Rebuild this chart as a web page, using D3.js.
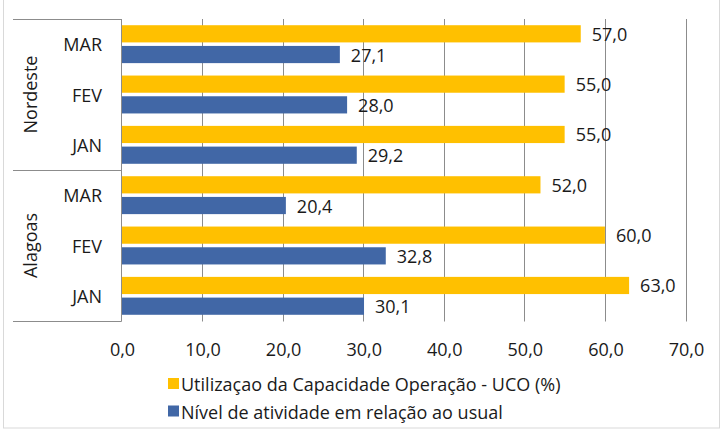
<!DOCTYPE html>
<html>
<head>
<meta charset="utf-8">
<script src="https://cdn.jsdelivr.net/npm/d3@7"></script>
<style>
  html, body { margin: 0; padding: 0; background: #fff; }
  svg { display: block; font-family: "Open Sans", "Liberation Sans", Arial, sans-serif; }
</style>
</head>
<body>
<svg id="chart" width="724" height="435"></svg>
<script>
// Data (top to bottom as drawn)
const groups = ["Nordeste", "Alagoas"];
const months = ["MAR", "FEV", "JAN"];
const categories = ["Nordeste|MAR", "Nordeste|FEV", "Nordeste|JAN", "Alagoas|MAR", "Alagoas|FEV", "Alagoas|JAN"];
const seriesNames = ["Utilizaçao da Capacidade Operação - UCO (%)", "Nível de atividade em relação ao usual"];
const uco = [57.0, 55.0, 55.0, 52.0, 60.0, 63.0];
const nivel = [27.1, 28.0, 29.2, 20.4, 32.8, 30.1];
const xTicks = [0, 10, 20, 30, 40, 50, 60, 70];
const colors = ["#FFC000", "#4167A6"];

const svg = d3.select("#chart");
const fmt = d3.formatLocale({decimal: ",", thousands: ".", grouping: [3], currency: ["", ""]}).format(".1f");
const fs = 18;
const txt = "#1a1a1a";

// outer border
svg.append("rect").attr("x", 3.5).attr("y", -5).attr("width", 716).attr("height", 433)
  .attr("fill", "#fff").attr("stroke", "#d9d9d9");

const x = d3.scaleLinear().domain([0, 70]).range([121.5, 685.5]);
const y = d3.scaleBand().domain(categories).range([19, 321]).padding(0);
const ys = d3.scaleBand().domain([0, 1]).range([0, y.bandwidth()]).paddingInner(0.17).paddingOuter(0.3);

// gridlines
svg.append("g").selectAll("line").data(xTicks.slice(1)).join("line")
  .attr("x1", d => Math.round(x(d)) + 0.5).attr("x2", d => Math.round(x(d)) + 0.5)
  .attr("y1", 19).attr("y2", 321.5)
  .attr("stroke", "#8c8c8c").attr("stroke-width", 1);

// tick labels
svg.append("g").selectAll("text").data(xTicks).join("text")
  .attr("x", d => x(d) + 1).attr("y", 349)
  .attr("text-anchor", "middle").attr("dominant-baseline", "central")
  .attr("font-size", fs).attr("fill", txt)
  .text(d => fmt(d));

// bars
const seriesData = [uco, nivel];
seriesData.forEach((vals, si) => {
  svg.append("g").selectAll("rect").data(vals).join("rect")
    .attr("x", x(0))
    .attr("y", (d, i) => y(categories[i]) + ys(si))
    .attr("width", d => x(d) - x(0))
    .attr("height", ys.bandwidth())
    .attr("fill", colors[si]);
  svg.append("g").selectAll("text").data(vals).join("text")
    .attr("x", d => x(d) + 11)
    .attr("y", (d, i) => y(categories[i]) + ys(si) + ys.bandwidth() / 2)
    .attr("dominant-baseline", "central")
    .attr("font-size", fs).attr("fill", txt)
    .text(d => fmt(d));
});

// category axis (multi-level)
const axisColor = "#8c8c8c";
svg.append("line").attr("x1", 121.5).attr("x2", 121.5).attr("y1", 19).attr("y2", 321.5)
  .attr("stroke", axisColor);
const boundaries = [y(categories[0]), y(categories[3]), y(categories[5]) + y.bandwidth()];
svg.append("g").selectAll("line").data(boundaries).join("line")
  .attr("x1", 13).attr("x2", 121.5)
  .attr("y1", d => Math.round(d) + 0.5).attr("y2", d => Math.round(d) + 0.5)
  .attr("stroke", axisColor);

svg.append("g").selectAll("text").data(categories).join("text")
  .attr("x", 102)
  .attr("y", d => y(d) + y.bandwidth() / 2)
  .attr("text-anchor", "end").attr("dominant-baseline", "central")
  .attr("font-size", fs).attr("fill", txt)
  .text(d => d.split("|")[1]);

groups.forEach((g, gi) => {
  const y0 = y(categories[gi * 3]);
  const y1 = y(categories[gi * 3 + 2]) + y.bandwidth();
  const cy = (y0 + y1) / 2;
  svg.append("text")
    .attr("transform", `translate(30,${cy}) rotate(-90)`)
    .attr("text-anchor", "middle").attr("dominant-baseline", "central")
    .attr("font-size", fs).attr("fill", txt)
    .text(g);
});

// legend
const legend = svg.append("g").selectAll("g").data(seriesNames).join("g")
  .attr("transform", (d, i) => `translate(168,${378 + i * 27.5})`);
legend.append("rect").attr("width", 11).attr("height", 11).attr("fill", (d, i) => colors[i]);
legend.append("text").attr("x", 13).attr("y", 6)
  .attr("dominant-baseline", "central")
  .attr("font-size", fs).attr("fill", txt)
  .text(d => d);
</script>
</body>
</html>
